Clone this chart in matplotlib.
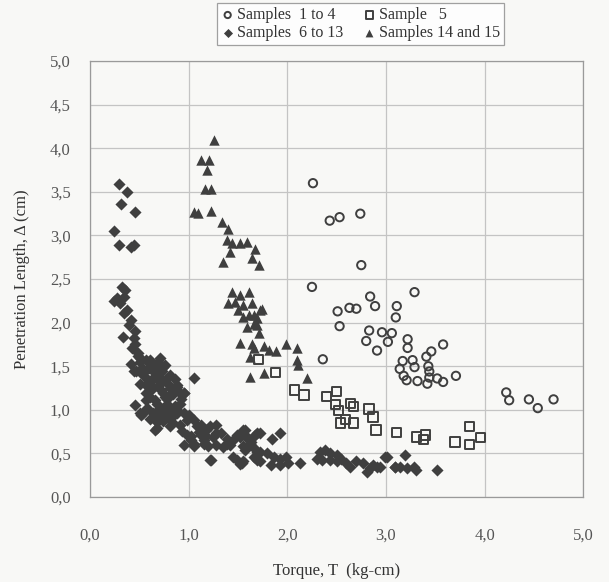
import matplotlib
matplotlib.use("Agg")
import matplotlib.pyplot as plt
from matplotlib.ticker import FuncFormatter

# Samples 1 to 4 (open circles)
s1_x = [2.26, 2.43, 2.53, 2.74, 2.75, 2.25, 3.29, 2.84, 2.89, 2.51, 2.63, 2.70,
        3.11, 3.10, 2.53, 2.83, 2.96, 3.06, 3.02, 2.80, 3.22, 3.22, 2.91, 2.36,
        3.17, 3.27, 3.29, 3.14, 3.18, 3.21, 3.32, 3.43, 3.44, 3.44, 3.42, 3.52,
        3.58, 3.71, 3.58, 3.46, 3.41, 4.22, 4.25, 4.45, 4.54, 4.70]
s1_y = [3.60, 3.17, 3.21, 3.25, 2.66, 2.41, 2.35, 2.30, 2.19, 2.13, 2.17, 2.16,
        2.19, 2.06, 1.96, 1.91, 1.89, 1.88, 1.78, 1.79, 1.81, 1.71, 1.68, 1.58,
        1.56, 1.57, 1.49, 1.47, 1.39, 1.34, 1.33, 1.50, 1.44, 1.37, 1.30, 1.36,
        1.32, 1.39, 1.75, 1.67, 1.61, 1.20, 1.11, 1.12, 1.02, 1.12]

# Sample 5 (open squares)
s5_x = [1.71, 1.88, 2.07, 2.17, 2.40, 2.50, 2.49, 2.52, 2.64, 2.67, 2.54, 2.59,
        2.67, 2.83, 2.87, 2.90, 3.11, 3.31, 3.40, 3.38, 3.70, 3.85, 3.96, 3.85]
s5_y = [1.58, 1.43, 1.23, 1.17, 1.15, 1.21, 1.06, 0.99, 1.07, 1.04, 0.85, 0.89,
        0.85, 1.01, 0.92, 0.77, 0.74, 0.69, 0.71, 0.66, 0.63, 0.81, 0.68, 0.60]

# Samples 6 to 13 (filled diamonds)
s6_x = [0.29, 0.37, 0.31, 0.46, 0.24, 0.29, 0.44, 0.41,
        0.32, 0.35, 0.27, 0.24, 0.34, 0.30, 0.37, 0.34, 0.41, 0.39, 0.33, 0.44,
        0.46, 0.42, 0.49, 0.51, 0.41, 0.57, 0.71, 0.76, 0.63, 0.47, 0.54, 0.66,
        0.59, 0.71, 0.79, 0.88, 1.05, 0.64, 0.74, 0.84, 0.95, 0.57, 0.46, 0.68,
        0.78, 0.91, 0.52, 0.64, 0.74, 0.88, 1.00,
        0.57, 0.71, 0.88, 0.95, 0.61, 0.78, 0.54, 0.68, 0.83, 0.95, 0.66, 0.81,
        0.91, 1.05, 1.12, 1.22, 1.28, 0.98, 1.12, 1.25, 1.39, 1.49, 1.57, 1.67,
        0.95, 1.05, 1.15, 1.28, 1.42, 1.55, 1.69, 1.23, 1.49, 1.54, 1.69,
        1.55, 1.59, 1.62, 1.72, 1.84, 1.93, 1.57, 1.66, 1.72, 1.79, 1.86, 1.93,
        1.99, 2.13, 1.55, 1.72, 1.83, 1.93, 2.01,
        2.33, 2.38, 2.43, 2.50, 2.54, 2.30, 2.35, 2.43, 2.50, 2.60, 2.64, 2.70,
        2.77, 2.84, 2.81, 2.87, 2.91, 3.01, 3.09,
        2.99, 3.19, 3.09, 3.14, 3.21, 3.28, 3.31, 2.94, 3.52,
        1.05, 1.22, 1.45, 1.52, 1.66,
        0.51, 0.61, 0.69, 0.74, 0.44, 0.56, 0.51, 0.63, 0.81, 0.90, 0.57, 0.66,
        0.76, 0.51, 0.61, 0.68, 0.79, 0.88, 0.98, 1.08, 1.18, 1.28, 1.15, 1.39,
        1.52, 1.62, 1.69,
        0.60, 0.66, 0.73, 0.81, 0.86, 0.64, 0.70, 0.77, 0.84, 0.92, 0.60, 0.72,
        0.80, 0.86, 0.70, 0.76, 0.83, 0.58, 0.68, 0.74, 0.82, 0.93, 1.02, 1.10,
        1.18, 1.33, 1.44, 1.60, 1.02, 1.20, 1.35, 1.63, 0.49, 0.53, 0.45]
s6_y = [3.59, 3.50, 3.36, 3.27, 3.05, 2.89, 2.89, 2.87,
        2.41, 2.37, 2.28, 2.25, 2.30, 2.22, 2.14, 2.11, 2.03, 1.97, 1.84, 1.82,
        1.76, 1.71, 1.65, 1.59, 1.53, 1.57, 1.59, 1.51, 1.53, 1.44, 1.40, 1.42,
        1.34, 1.32, 1.30, 1.28, 1.36, 1.25, 1.19, 1.21, 1.19, 1.11, 1.06, 1.07,
        1.07, 1.07, 0.94, 0.96, 0.94, 0.96, 0.94,
        1.28, 1.30, 1.26, 1.19, 1.15, 1.13, 0.96, 0.92, 0.92, 0.96, 0.77, 0.81,
        0.83, 0.88, 0.83, 0.81, 0.83, 0.71, 0.71, 0.69, 0.67, 0.71, 0.77, 0.71,
        0.60, 0.58, 0.61, 0.60, 0.60, 0.58, 0.52, 0.42, 0.42, 0.39, 0.42,
        0.77, 0.69, 0.65, 0.73, 0.67, 0.73, 0.54, 0.56, 0.52, 0.50, 0.46, 0.44,
        0.46, 0.39, 0.41, 0.41, 0.37, 0.37, 0.39,
        0.52, 0.54, 0.50, 0.48, 0.44, 0.44, 0.42, 0.42, 0.41, 0.39, 0.35, 0.41,
        0.39, 0.33, 0.29, 0.37, 0.35, 0.46, 0.34,
        0.46, 0.48, 0.35, 0.35, 0.33, 0.35, 0.31, 0.35, 0.31,
        0.61, 0.42, 0.46, 0.38, 0.46,
        1.55, 1.57, 1.55, 1.49, 1.44, 1.44, 1.30, 1.34, 1.25, 1.21, 1.19, 1.11,
        1.15, 0.96, 0.90, 0.79, 0.94, 1.00, 0.88, 0.81, 0.77, 0.73, 0.65, 0.61,
        0.69, 0.61, 0.73,
        1.48, 1.47, 1.45, 1.40, 1.35, 1.37, 1.38, 1.35, 1.18, 1.13, 1.22, 1.23,
        1.02, 1.04, 1.01, 1.03, 0.86, 1.02, 0.86, 0.87, 0.99, 0.76, 0.70, 0.75,
        0.70, 0.74, 0.64, 0.66, 0.65, 0.59, 0.57, 0.63, 1.62, 1.48, 1.90]

# Samples 14 and 15 (filled triangles)
s14_x = [1.26, 1.12, 1.21, 1.19, 1.16, 1.23, 1.05, 1.09, 1.23, 1.34, 1.40,
         1.39, 1.44, 1.52, 1.59, 1.67, 1.42, 1.64, 1.35, 1.71,
         1.44, 1.52, 1.61, 1.40, 1.47, 1.55, 1.64, 1.72, 1.50, 1.61, 1.69, 1.66,
         1.55, 1.66, 1.59, 1.69, 1.52, 1.66, 1.62, 1.62, 1.74, 1.71, 1.64,
         1.76, 1.81, 1.89, 1.99, 2.10, 2.10, 2.11, 2.20, 1.76]
s14_y = [4.09, 3.86, 3.87, 3.75, 3.53, 3.53, 3.27, 3.26, 3.28, 3.15, 3.07,
         2.95, 2.91, 2.91, 2.92, 2.84, 2.81, 2.74, 2.70, 2.66,
         2.35, 2.32, 2.35, 2.22, 2.24, 2.20, 2.22, 2.14, 2.14, 2.09, 2.05, 1.99,
         2.07, 2.09, 1.95, 1.97, 1.77, 1.71, 1.61, 1.38, 2.16, 1.88, 1.76,
         1.73, 1.69, 1.67, 1.76, 1.71, 1.57, 1.51, 1.36, 1.42]

x_ticks = [0, 1, 2, 3, 4, 5]
y_ticks = [0, 0.5, 1.0, 1.5, 2.0, 2.5, 3.0, 3.5, 4.0, 4.5, 5.0]

plt.rcParams['font.family'] = ['Liberation Serif', 'DejaVu Serif']

fig = plt.figure(figsize=(6.09, 5.82), dpi=100)
fig.patch.set_facecolor('#f8f8f6')
ax = fig.add_axes([0.148, 0.146, 0.8095, 0.749])
ax.set_facecolor('#f8f8f6')

ink = '#3f3f3f'
ax.scatter(s1_x, s1_y, marker='o', s=36, facecolors='none', edgecolors=ink,
           linewidths=1.4, label='Samples  1 to 4', zorder=3)
ax.scatter(s6_x, s6_y, marker='D', s=38, color=ink, linewidths=0,
           label='Samples  6 to 13', zorder=3)
ax.scatter(s5_x, s5_y, marker='s', s=46, facecolors='none', edgecolors=ink,
           linewidths=1.4, label='Sample   5', zorder=3)
ax.scatter(s14_x, s14_y, marker='^', s=56, color=ink, linewidths=0,
           label='Samples 14 and 15', zorder=3)

ax.set_xlim(0, 5)
ax.set_ylim(0, 5)
ax.set_xticks(x_ticks)
ax.set_yticks(y_ticks)
comma = FuncFormatter(lambda v, p: f"{v:.1f}".replace('.', ','))
ax.xaxis.set_major_formatter(comma)
ax.yaxis.set_major_formatter(comma)
ax.tick_params(length=0, labelsize=12, labelcolor='#555555')
ax.tick_params(axis='x', pad=22)
ax.tick_params(axis='y', pad=14)
ax.grid(True, color='#c4c4c4', linewidth=0.9)
ax.set_axisbelow(True)
for sp in ax.spines.values():
    sp.set_color('#9a9a9a')
    sp.set_linewidth(0.9)

ax.set_xlabel('Torque, T  (kg-cm)', fontsize=12, color='#333333', labelpad=14)
ax.set_ylabel('Penetration Length, \u0394 (cm)', fontsize=12, color='#333333',
              labelpad=14)

leg = fig.legend(loc='upper center', bbox_to_anchor=(0.592, 1.0), ncol=2,
                 fontsize=11.5, frameon=True, fancybox=False, handletextpad=0.2,
                 columnspacing=1.2, labelspacing=0.1, borderpad=0.25,
                 borderaxespad=0.2, handlelength=0.8, markerscale=0.75)
leg.get_frame().set_edgecolor('#8a8a8a')
leg.get_frame().set_facecolor('white')
leg.get_frame().set_linewidth(0.9)
for t in leg.get_texts():
    t.set_color('#333333')

fig.savefig('out.png', dpi=100, facecolor=fig.get_facecolor())
